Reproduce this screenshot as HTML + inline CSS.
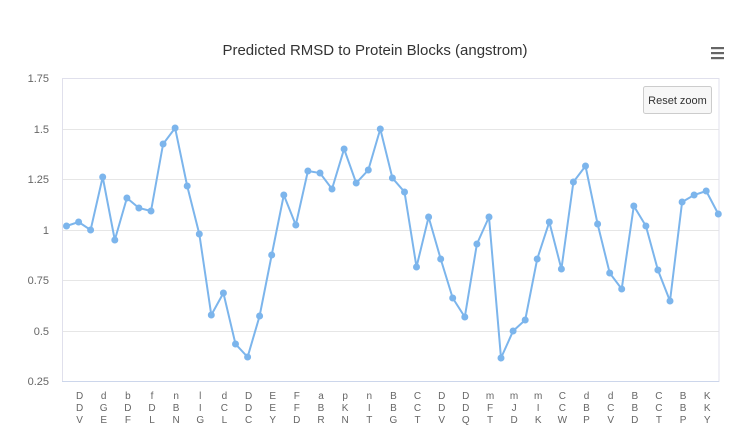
<!DOCTYPE html>
<html><head><meta charset="utf-8"><style>
html,body{margin:0;padding:0;background:#fff;}
svg{display:block;font-family:"Liberation Sans",sans-serif;}
</style></head><body>
<svg width="750" height="438" viewBox="0 0 750 438" xmlns="http://www.w3.org/2000/svg">
<rect width="750" height="438" fill="#fff"/>
<text x="375" y="55" text-anchor="middle" font-size="15" fill="#333">Predicted RMSD to Protein Blocks (angstrom)</text>
<g fill="#666"><rect x="711" y="47" width="13" height="2.2"/><rect x="711" y="52" width="13" height="2.2"/><rect x="711" y="57" width="13" height="2.2"/></g>
<g stroke="#e6e6e6" stroke-width="1">
<line x1="62" x2="719" y1="78.5" y2="78.5"/>
<line x1="62" x2="719" y1="129.5" y2="129.5"/>
<line x1="62" x2="719" y1="179.5" y2="179.5"/>
<line x1="62" x2="719" y1="230.5" y2="230.5"/>
<line x1="62" x2="719" y1="280.5" y2="280.5"/>
<line x1="62" x2="719" y1="331.5" y2="331.5"/>
</g>
<rect x="62.5" y="78.5" width="656.5" height="303" fill="none" stroke="#e0e0ec"/>
<line x1="62" x2="719" y1="381.5" y2="381.5" stroke="#ccd6eb"/>
<g font-size="11" fill="#666" text-anchor="end">
<text x="49" y="82">1.75</text><text x="49" y="133">1.5</text><text x="49" y="183">1.25</text><text x="49" y="234">1</text><text x="49" y="284">0.75</text><text x="49" y="335">0.5</text><text x="49" y="385">0.25</text>
</g>
<polyline fill="none" stroke="#7cb5ec" stroke-width="2" points="66.5,226 78.6,222 90.6,230 102.7,177 114.8,240 126.9,198 138.9,208 151,211 163.1,144 175.1,128 187.2,186 199.3,234 211.3,315 223.4,293 235.5,344 247.6,357 259.6,316 271.7,255 283.8,195 295.8,225 307.9,171 320,173 332,189 344.1,149 356.2,183 368.3,170 380.3,129 392.4,178 404.5,192 416.5,267 428.6,217 440.7,259 452.7,298 464.8,317 476.9,244 489,217 501,358 513.1,331 525.2,320 537.2,259 549.3,222 561.4,269 573.4,182 585.5,166 597.6,224 609.7,273 621.7,289 633.8,206 645.9,226 657.9,270 670,301 682.1,202 694.1,195 706.2,191 718.3,214"/>
<g fill="#7cb5ec">
<circle cx="66.5" cy="226" r="3.5"/><circle cx="78.6" cy="222" r="3.5"/><circle cx="90.6" cy="230" r="3.5"/><circle cx="102.7" cy="177" r="3.5"/><circle cx="114.8" cy="240" r="3.5"/><circle cx="126.9" cy="198" r="3.5"/><circle cx="138.9" cy="208" r="3.5"/><circle cx="151" cy="211" r="3.5"/><circle cx="163.1" cy="144" r="3.5"/><circle cx="175.1" cy="128" r="3.5"/><circle cx="187.2" cy="186" r="3.5"/><circle cx="199.3" cy="234" r="3.5"/><circle cx="211.3" cy="315" r="3.5"/><circle cx="223.4" cy="293" r="3.5"/><circle cx="235.5" cy="344" r="3.5"/><circle cx="247.6" cy="357" r="3.5"/><circle cx="259.6" cy="316" r="3.5"/><circle cx="271.7" cy="255" r="3.5"/><circle cx="283.8" cy="195" r="3.5"/><circle cx="295.8" cy="225" r="3.5"/><circle cx="307.9" cy="171" r="3.5"/><circle cx="320" cy="173" r="3.5"/><circle cx="332" cy="189" r="3.5"/><circle cx="344.1" cy="149" r="3.5"/><circle cx="356.2" cy="183" r="3.5"/><circle cx="368.3" cy="170" r="3.5"/><circle cx="380.3" cy="129" r="3.5"/><circle cx="392.4" cy="178" r="3.5"/><circle cx="404.5" cy="192" r="3.5"/><circle cx="416.5" cy="267" r="3.5"/><circle cx="428.6" cy="217" r="3.5"/><circle cx="440.7" cy="259" r="3.5"/><circle cx="452.7" cy="298" r="3.5"/><circle cx="464.8" cy="317" r="3.5"/><circle cx="476.9" cy="244" r="3.5"/><circle cx="489" cy="217" r="3.5"/><circle cx="501" cy="358" r="3.5"/><circle cx="513.1" cy="331" r="3.5"/><circle cx="525.2" cy="320" r="3.5"/><circle cx="537.2" cy="259" r="3.5"/><circle cx="549.3" cy="222" r="3.5"/><circle cx="561.4" cy="269" r="3.5"/><circle cx="573.4" cy="182" r="3.5"/><circle cx="585.5" cy="166" r="3.5"/><circle cx="597.6" cy="224" r="3.5"/><circle cx="609.7" cy="273" r="3.5"/><circle cx="621.7" cy="289" r="3.5"/><circle cx="633.8" cy="206" r="3.5"/><circle cx="645.9" cy="226" r="3.5"/><circle cx="657.9" cy="270" r="3.5"/><circle cx="670" cy="301" r="3.5"/><circle cx="682.1" cy="202" r="3.5"/><circle cx="694.1" cy="195" r="3.5"/><circle cx="706.2" cy="191" r="3.5"/><circle cx="718.3" cy="214" r="3.5"/>
</g>
<rect x="643.5" y="86.5" width="68" height="27" rx="2" fill="#f7f7f7" stroke="#cccccc"/>
<text x="677.5" y="104" text-anchor="middle" font-size="11" fill="#333">Reset zoom</text>
<g font-size="10" fill="#666" text-anchor="middle">
<text x="79.6" y="399">D</text><text x="79.6" y="411">D</text><text x="79.6" y="423">V</text>
<text x="103.7" y="399">d</text><text x="103.7" y="411">G</text><text x="103.7" y="423">E</text>
<text x="127.9" y="399">b</text><text x="127.9" y="411">D</text><text x="127.9" y="423">F</text>
<text x="152" y="399">f</text><text x="152" y="411">D</text><text x="152" y="423">L</text>
<text x="176.1" y="399">n</text><text x="176.1" y="411">B</text><text x="176.1" y="423">N</text>
<text x="200.3" y="399">l</text><text x="200.3" y="411">I</text><text x="200.3" y="423">G</text>
<text x="224.4" y="399">d</text><text x="224.4" y="411">C</text><text x="224.4" y="423">L</text>
<text x="248.6" y="399">D</text><text x="248.6" y="411">D</text><text x="248.6" y="423">C</text>
<text x="272.7" y="399">E</text><text x="272.7" y="411">E</text><text x="272.7" y="423">Y</text>
<text x="296.8" y="399">F</text><text x="296.8" y="411">F</text><text x="296.8" y="423">D</text>
<text x="321" y="399">a</text><text x="321" y="411">B</text><text x="321" y="423">R</text>
<text x="345.1" y="399">p</text><text x="345.1" y="411">K</text><text x="345.1" y="423">N</text>
<text x="369.3" y="399">n</text><text x="369.3" y="411">I</text><text x="369.3" y="423">T</text>
<text x="393.4" y="399">B</text><text x="393.4" y="411">B</text><text x="393.4" y="423">G</text>
<text x="417.5" y="399">C</text><text x="417.5" y="411">C</text><text x="417.5" y="423">T</text>
<text x="441.7" y="399">D</text><text x="441.7" y="411">D</text><text x="441.7" y="423">V</text>
<text x="465.8" y="399">D</text><text x="465.8" y="411">D</text><text x="465.8" y="423">Q</text>
<text x="490" y="399">m</text><text x="490" y="411">F</text><text x="490" y="423">T</text>
<text x="514.1" y="399">m</text><text x="514.1" y="411">J</text><text x="514.1" y="423">D</text>
<text x="538.2" y="399">m</text><text x="538.2" y="411">I</text><text x="538.2" y="423">K</text>
<text x="562.4" y="399">C</text><text x="562.4" y="411">C</text><text x="562.4" y="423">W</text>
<text x="586.5" y="399">d</text><text x="586.5" y="411">B</text><text x="586.5" y="423">P</text>
<text x="610.7" y="399">d</text><text x="610.7" y="411">C</text><text x="610.7" y="423">V</text>
<text x="634.8" y="399">B</text><text x="634.8" y="411">B</text><text x="634.8" y="423">D</text>
<text x="658.9" y="399">C</text><text x="658.9" y="411">C</text><text x="658.9" y="423">T</text>
<text x="683.1" y="399">B</text><text x="683.1" y="411">B</text><text x="683.1" y="423">P</text>
<text x="707.2" y="399">K</text><text x="707.2" y="411">K</text><text x="707.2" y="423">Y</text>
</g>
</svg>
</body></html>
